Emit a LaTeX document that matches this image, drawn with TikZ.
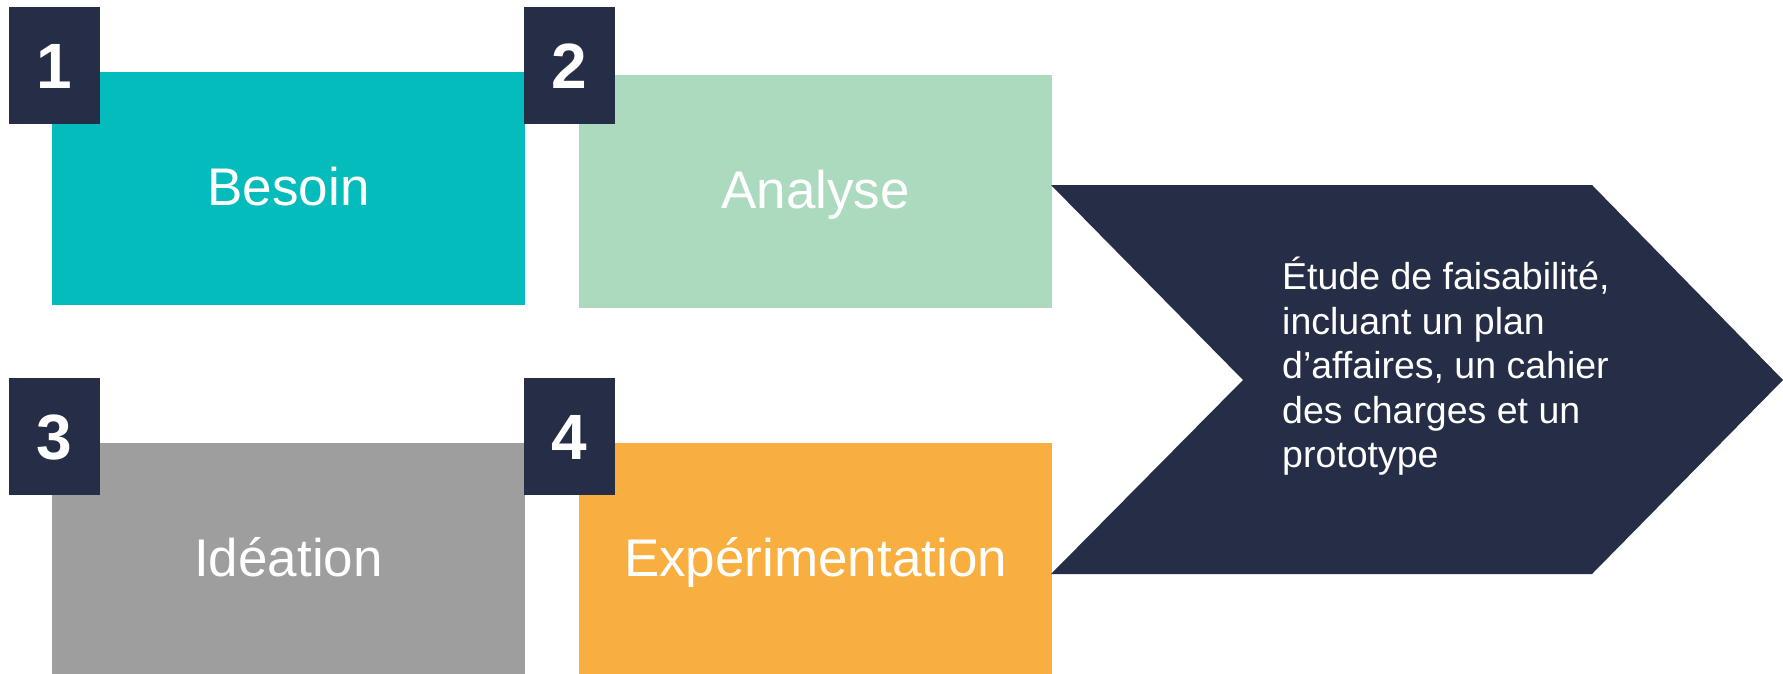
\documentclass[tikz,border=0pt]{standalone}
\usepackage{fontspec}
\setmainfont{Liberation Sans}
\definecolor{teal1}{HTML}{05BCBC}
\definecolor{green1}{HTML}{ACDABF}
\definecolor{grey1}{HTML}{9E9E9E}
\definecolor{orange1}{HTML}{F9AF3F}
\definecolor{navy1}{HTML}{262E47}
\tikzset{
  stepbox/.style={draw=none, inner sep=0pt, minimum width=473pt, minimum height=233pt,
    text=white, font=\fontsize{53}{60}\selectfont, text height=33pt, text depth=0pt},
  badge/.style={fill=navy1, inner sep=0pt, minimum width=91pt, minimum height=117pt,
    text=white, font=\bfseries\fontsize{64}{70}\selectfont, text height=46pt, text depth=0pt},
}
\begin{document}
\begin{tikzpicture}[x=1pt,y=-1pt]
\useasboundingbox (0,0) rectangle (1783,674);
% boxes
\node[stepbox, fill=teal1]   (b1) at (288.5,188.5) {Besoin};
\node[stepbox, fill=green1]  (b2) at (815.5,191.5) {Analyse};
\node[stepbox, fill=grey1]   (b3) at (288.5,559.5) {Idéation};
\node[stepbox, fill=orange1] (b4) at (815.5,559.5) {Expérimentation};
% badges
\node[badge] (n1) at (54.5,65.5) {1};
\node[badge] (n2) at (569.5,65.5) {2};
\node[badge] (n3) at (54.5,436.5) {3};
\node[badge] (n4) at (569.5,436.5) {4};
% chevron
\fill[navy1] (1051,185) -- (1592,185) -- (1783,380) -- (1592,574) -- (1051,574) -- (1243,380) -- cycle;
\node[anchor=north west, inner sep=0pt, align=left, text=white,
  font=\fontsize{37.5}{44.5}\selectfont] (res) at (1282,257)
  {Étude de faisabilité,\\incluant un plan\\d’affaires, un cahier\\des charges et un\\prototype};
\end{tikzpicture}
\end{document}
